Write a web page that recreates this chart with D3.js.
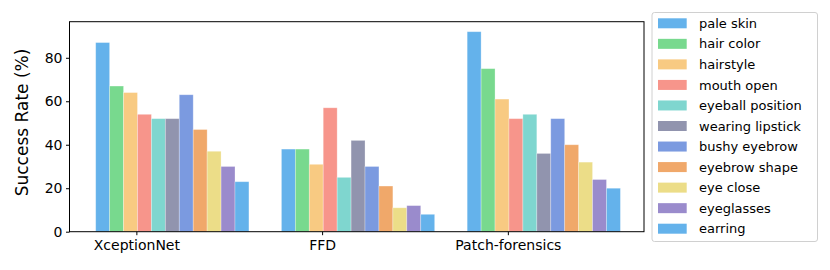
<!DOCTYPE html>
<html>
<head>
<meta charset="utf-8">
<script src="https://cdn.jsdelivr.net/npm/d3@7"></script>
<style>
  body { margin: 0; background: #fff; }
  text { font-family: "DejaVu Sans", sans-serif; fill: #000; }
</style>
</head>
<body>
<svg id="chart" width="830" height="270"></svg>
<script>
var models = ["XceptionNet", "FFD", "Patch-forensics"];
var attributes = ["pale skin", "hair color", "hairstyle", "mouth open", "eyeball position",
  "wearing lipstick", "bushy eyebrow", "eyebrow shape", "eye close", "eyeglasses", "earring"];
var xceptionValues = [87, 67, 64, 54, 52, 52, 63, 47, 37, 30, 23];
var ffdValues = [38, 38, 31, 57, 25, 42, 30, 21, 11, 12, 8];
var patchValues = [92, 75, 61, 52, 54, 36, 52, 40, 32, 24, 20];
var yTicks = [0, 20, 40, 60, 80];
var colors = ["#64b2eb", "#78d98e", "#f8ca82", "#f7958b", "#7fd6cf", "#9194ae",
  "#7b9ae0", "#f0a86a", "#ecdd88", "#9a8bcc", "#64b2eb"];

var series = [xceptionValues, ffdValues, patchValues];

var svg = d3.select("#chart");
var plotLeft = 69.5, plotRight = 644, plotTop = 21.7, plotBottom = 231.7;
var barW = 0.075;

var x = d3.scaleLinear().domain([-0.36, 2.733]).range([plotLeft, plotRight]);
var y = d3.scaleLinear().domain([0, 96.6]).range([plotBottom, plotTop]);

// bars
series.forEach(function(vals, g) {
  svg.append("g").selectAll("rect")
    .data(vals)
    .enter()
    .append("rect")
      .attr("x", function(d, i) { return x(g - 0.219 + i * barW); })
      .attr("y", function(d) { return y(d); })
      .attr("width", x(barW) - x(0))
      .attr("height", function(d) { return plotBottom - y(d); })
      .attr("fill", function(d, i) { return colors[i]; })
      .attr("stroke", "#fff")
      .attr("stroke-opacity", 0.35)
      .attr("stroke-width", 0.8);
});

// axes
var yAxis = svg.append("g")
  .attr("transform", "translate(" + plotLeft + ",0)")
  .call(d3.axisLeft(y).tickValues(yTicks).tickSize(3.5).tickPadding(3.5));
yAxis.select(".domain").remove();
yAxis.selectAll("text").style("font-size", "14px").style("font-family", "DejaVu Sans");

var xAxis = svg.append("g")
  .attr("transform", "translate(0," + plotBottom + ")")
  .call(d3.axisBottom(x).tickValues([0, 1, 2]).tickFormat(function(d) { return models[d]; })
    .tickSize(3.5).tickPadding(5));
xAxis.select(".domain").remove();
xAxis.selectAll("text").style("font-size", "14px").style("font-family", "DejaVu Sans");

svg.append("rect")
  .attr("x", plotLeft).attr("y", plotTop)
  .attr("width", plotRight - plotLeft).attr("height", plotBottom - plotTop)
  .attr("fill", "none").attr("stroke", "#000").attr("stroke-width", 1);

svg.append("text")
  .attr("transform", "translate(27.5,122.5) rotate(-90)")
  .attr("text-anchor", "middle")
  .style("font-size", "17px")
  .text("Success Rate (%)");

// legend
var legend = svg.append("g");
legend.append("rect")
  .attr("x", 652).attr("y", 12.5)
  .attr("width", 165.5).attr("height", 229)
  .attr("rx", 2.5)
  .attr("fill", "#fff").attr("stroke", "#d0d0d0").attr("stroke-width", 1);

var item = legend.selectAll("g.item")
  .data(attributes)
  .enter()
  .append("g")
  .attr("class", "item")
  .attr("transform", function(d, i) { return "translate(0," + (23.3 + i * 20.54) + ")"; });
item.append("rect")
  .attr("x", 658).attr("y", -5)
  .attr("width", 28.7).attr("height", 10)
  .attr("fill", function(d, i) { return colors[i]; });
item.append("text")
  .attr("x", 699).attr("y", 4.6)
  .style("font-size", "13px")
  .text(function(d) { return d; });
</script>
</body>
</html>
